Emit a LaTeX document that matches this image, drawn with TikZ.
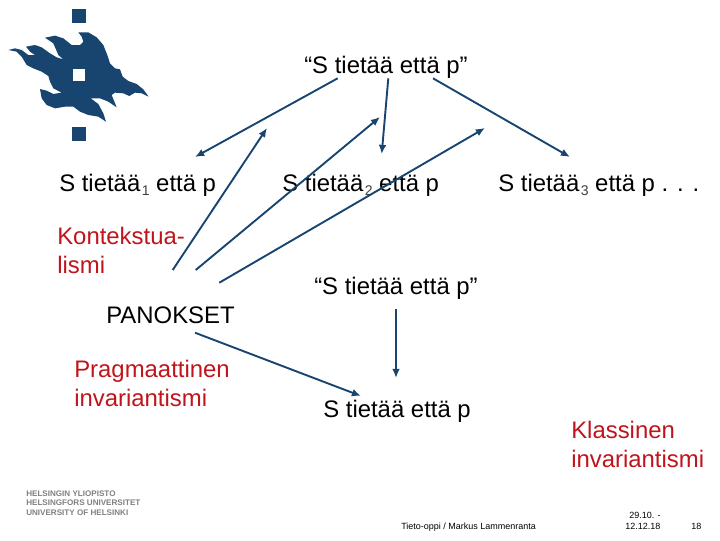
\documentclass[tikz,border=0pt]{standalone}
\usepackage{fontspec}
\setmainfont{Liberation Sans}
\definecolor{myblue}{HTML}{17456F}
\definecolor{myred}{HTML}{C0141C}
\usetikzlibrary{arrows.meta}
\tikzset{
	bigtext/.style={font=\fontsize{17}{20.5}\selectfont, anchor=base west, inner sep=0pt},
	redtext/.style={bigtext, text=myred},
	footertext/.style={font=\fontsize{6.4}{10}\selectfont, anchor=base west, inner sep=0pt},
	logotext/.style={font=\fontsize{5.75}{8}\selectfont\bfseries, anchor=base west, inner sep=0pt, text=black!50},
	myarrow/.style={-{Latex[length=6.5pt,width=5.5pt]}, myblue, line width=1.35pt}
}
\newcommand{\tietaa}[1]{S tietää\kern1pt\raisebox{-3.5pt}{\fontsize{10}{10}\selectfont\color{black!75}#1} että p}
\begin{document}
\begin{tikzpicture}[x=0.025cm, y=-0.025cm]
      \useasboundingbox (0,0) rectangle (720,540);
      % logo
      \fill[myblue] (72,9) rectangle (86,23);
      \fill[myblue] (72,127) rectangle (86,141);
      \begin{scope}[scale=1/3]
        \fill[myblue, line join=round] (235,97) -- (265,97) -- (290,112) -- (310,135) -- (322,165)
          -- (330,190) -- (345,205) -- (360,208) -- (368,230) -- (385,243) -- (410,252) -- (430,268)
          -- (446,290) -- (425,280) -- (405,278) -- (388,288) -- (370,280) -- (345,278) -- (335,285)
          -- (350,322) -- (325,305) -- (300,295) -- (272,295) -- (295,312) -- (310,340) -- (318,365)
          -- (295,350) -- (265,345) -- (240,335) -- (220,320) -- (195,320) -- (165,325) -- (140,315)
          -- (125,295) -- (120,267) -- (140,272) -- (160,282) -- (185,278) -- (160,265) -- (150,245)
          -- (145,228) -- (125,215) -- (100,205) -- (80,195) -- (65,170) -- (50,155) -- (25,150)
          -- (45,145) -- (65,150) -- (85,165) -- (105,165) -- (90,155) -- (78,140) -- (105,135)
          -- (125,142) -- (150,160) -- (170,172) -- (190,178) -- (175,165) -- (160,130) -- (135,113)
          -- (165,107) -- (190,115) -- (215,135) -- (240,135) -- (250,125) -- (245,110) -- cycle;
        \fill[white] (218,206) rectangle (256,243);
      \end{scope}
      \node[logotext] (fi) at (26,496) {HELSINGIN YLIOPISTO};
      \node[logotext] (sv) at (26,505) {HELSINGFORS UNIVERSITET};
      \node[logotext] (en) at (26,515) {UNIVERSITY OF HELSINKI};
      % texts
      \node[bigtext] (claim) at (304,73) {“S tietää että p”};
      \node[bigtext] (know1) at (59,191) {\tietaa{1}};
      \node[bigtext] (know2) at (282,191) {\tietaa{2}};
      \node[bigtext] (know3) at (498,191) {\tietaa{3} . . .};
      \node[bigtext] (claimb) at (314,294) {“S tietää että p”};
      \node[bigtext] (panokset) at (106,323) {PANOKSET};
      \node[bigtext] (know) at (323,417) {S tietää että p};
      \node[redtext] (kont) at (57,244) {Kontekstua-};
      \node[redtext] (kontb) at (57,273) {lismi};
      \node[redtext] (prag) at (74,377) {Pragmaattinen};
      \node[redtext] (pragb) at (74,406) {invariantismi};
      \node[redtext] (klas) at (571,438) {Klassinen};
      \node[redtext] (klasb) at (571,467) {invariantismi};
      \node[footertext] (author) at (401,529) {Tieto-oppi / Markus Lammenranta};
      \node[footertext] (dates) at (629,518) {29.10. -};
      \node[footertext] (datesb) at (625,529) {12.12.18};
      \node[footertext] (page) at (691,529) {18};
      % free ends of the arrows
      \coordinate (a1) at (337.7,78.3);
      \coordinate (a2) at (195,157);
      \coordinate (b1) at (388.3,78.3);
      \coordinate (b2) at (381.7,154);
      \coordinate (c1) at (433,78.3);
      \coordinate (c2) at (570,157);
      \coordinate (d1) at (172.7,270);
      \coordinate (d2) at (267,128);
      \coordinate (e1) at (195.7,270);
      \coordinate (e2) at (380,117);
      \coordinate (f1) at (219.3,282.7);
      \coordinate (f2) at (485,128);
      \coordinate (g1) at (195,332.7);
      \coordinate (g2) at (361,396);
      \coordinate (h1) at (396,309);
      \coordinate (h2) at (396,378);
      \foreach \s/\t in {a1/a2, b1/b2, c1/c2, d1/d2, e1/e2, f1/f2, g1/g2, h1/h2}
        \draw[myarrow] (\s) -- (\t);
    \end{tikzpicture}
\end{document}
